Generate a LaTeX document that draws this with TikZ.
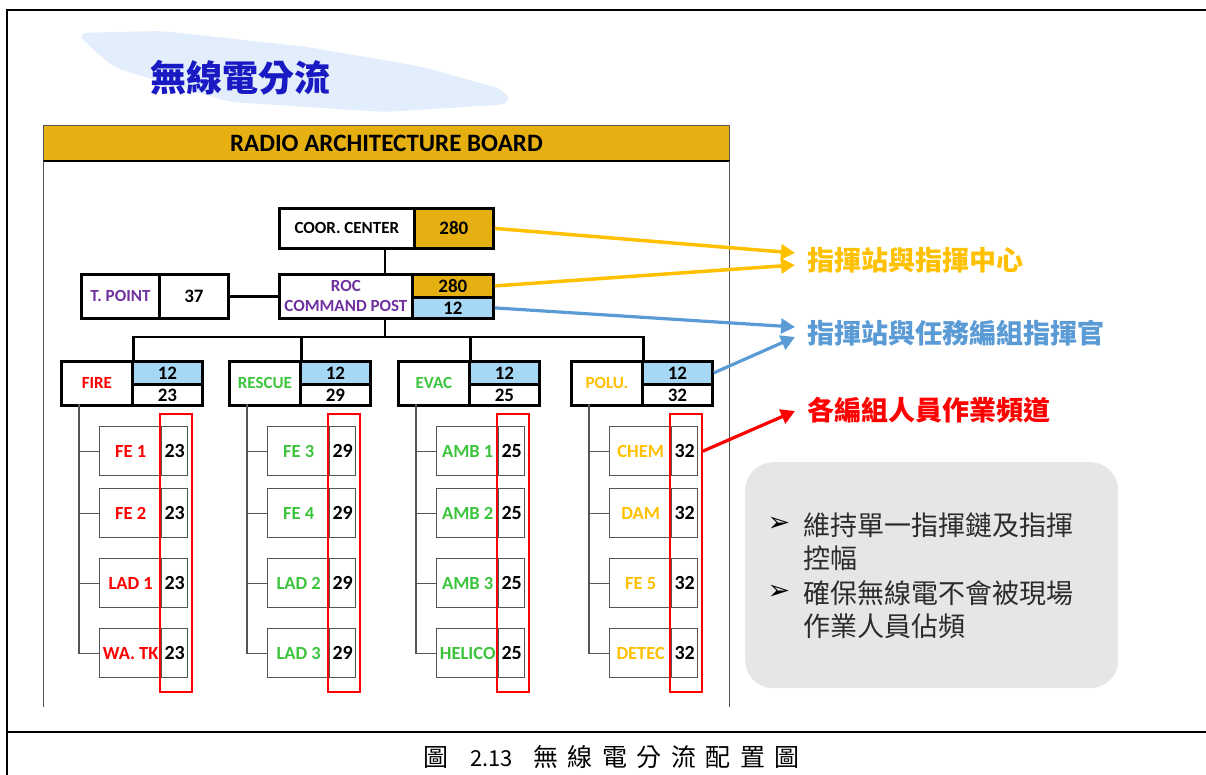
\documentclass[tikz,border=0pt]{standalone}
\usepackage{fontspec}
\setmainfont{Carlito}
\newfontfamily\cjk{Noto Sans CJK TC}
\newfontfamily\capfont[LetterSpace=38]{Noto Sans CJK TC}
\newfontfamily\dejavu{DejaVu Sans}
\usetikzlibrary{arrows.meta,calc}
\definecolor{gold}{HTML}{E6B012}
\definecolor{lblue}{HTML}{A6D8F5}
\definecolor{ylw}{HTML}{FFC000}
\definecolor{bl}{HTML}{5B9BD5}
\definecolor{grn}{HTML}{3CC43C}
\definecolor{purp}{HTML}{7030A0}
\definecolor{boxgray}{HTML}{E6E6E6}
\definecolor{titleblue}{HTML}{1A1AC4}
\definecolor{brush}{HTML}{E2EEFB}
\definecolor{txtgray}{HTML}{2B2B2B}
\definecolor{frame}{HTML}{555555}
\tikzset{
  cellbox/.style={draw=black, line width=2.8pt, anchor=north west, inner sep=0pt,
    font=\bfseries\fontsize{17}{19}\selectfont},
  numcell/.style={cellbox, font=\bfseries\fontsize{19}{21}\selectfont},
  chl/.style={draw=frame, line width=1.4pt, anchor=north west, inner sep=0pt,
    minimum width=62, minimum height=49, font=\bfseries\fontsize{18.5}{20}\selectfont},
  chn/.style={chl, minimum width=26, font=\bfseries\fontsize{20}{22}\selectfont},
  redbox/.style={draw=red, line width=1.8pt, anchor=north west, inner sep=0pt,
    minimum width=32, minimum height=278},
  bus/.style={line width=2.8pt},
  childline/.style={draw=frame, line width=1.4pt},
  yarrow/.style={draw=ylw, line width=3.5pt, -{Triangle[length=14pt,width=15pt]}},
  barrow/.style={draw=bl, line width=3.2pt, -{Triangle[length=14pt,width=15pt]}},
  rarrow/.style={draw=red, line width=3.2pt, -{Triangle[length=14pt,width=15pt]}},
  sidelabel/.style={anchor=west, inner sep=4pt, font=\cjk\bfseries\fontsize{27}{30}\selectfont},
  notetext/.style={anchor=west, inner sep=0pt, text=txtgray, font=\cjk\fontsize{27}{30}\selectfont},
  bullet/.style={inner sep=0pt, text=black, font=\dejavu\fontsize{27}{30}\selectfont},
}
% group: name, left x, label, colour, number, four children
\newcommand\grpbox[9]{%
  \node[cellbox, text=#4, minimum width=71, minimum height=44] (#1L) at (#2,360) {#3};
  \node[numcell, fill=lblue, minimum width=70, minimum height=23] (#1A) at (#2+71,360) {12};
  \node[numcell, minimum width=70, minimum height=21] (#1B) at (#2+71,383) {#5};
  \coordinate (#1V) at (#2+19,404);
  \node[chl, text=#4] (#1c1) at (#2+39,426) {#6};
  \node[chn] (#1n1) at (#2+101,426) {#5};
  \node[chl, text=#4] (#1c2) at (#2+39,488) {#7};
  \node[chn] (#1n2) at (#2+101,488) {#5};
  \node[chl, text=#4] (#1c3) at (#2+39,558) {#8};
  \node[chn] (#1n3) at (#2+101,558) {#5};
  \node[chl, text=#4] (#1c4) at (#2+39,628) {#9};
  \node[chn] (#1n4) at (#2+101,628) {#5};
  \draw[childline] (#1V) |- (#1c4.west);
  \draw[childline] (#1V |- #1c1.west) -- (#1c1.west);
  \draw[childline] (#1V |- #1c2.west) -- (#1c2.west);
  \draw[childline] (#1V |- #1c3.west) -- (#1c3.west);
  \node[redbox] (#1R) at (#2+99,413) {};
}
\begin{document}
\begin{tikzpicture}[x=1pt,y=-1pt]
\useasboundingbox (0,0) rectangle (1206,775);
% outer frame
\draw[line width=2.5pt] (7,776) -- (7,10) -- (1210,10);
\draw[line width=2.5pt] (7,732) -- (1210,732);
% title brush
\fill[brush, rounded corners=10]
  (77,33) -- (161,31) -- (308,47) -- (423,67) -- (505,90) -- (511,104)
  -- (385,112) -- (230,102) -- (115,68) -- (88,45) -- cycle;
\node[font=\cjk\bfseries\fontsize{36}{40}\selectfont, text=titleblue] (title) at (240,78) {無線電分流};
% board
\node[fill=gold, draw=frame, line width=0.8pt, anchor=north west, minimum width=686,
  minimum height=35, inner sep=0pt, font=\bfseries\fontsize{25}{27}\selectfont] (hdr) at (43,125) {RADIO ARCHITECTURE BOARD};
\draw[line width=2.5pt] (hdr.south west) -- (hdr.south east);
\draw[draw=frame, line width=1pt] (hdr.south west) -- ++(0,546);
\draw[draw=frame, line width=1pt] (hdr.south east) -- ++(0,546);
% top boxes
\node[cellbox, minimum width=135, minimum height=40] (coorL) at (278,207) {COOR. CENTER};
\node[numcell, fill=gold, minimum width=79, minimum height=40] (coorN) at (413,207) {280};
\node[cellbox, text=purp, minimum width=133, minimum height=44, align=center,
  font=\bfseries\fontsize{17}{20}\selectfont] (rocL) at (278,273) {ROC\\COMMAND POST};
\node[numcell, fill=gold, minimum width=81, minimum height=23] (rocA) at (411,273) {280};
\node[numcell, fill=lblue, minimum width=81, minimum height=21] (rocB) at (411,296) {12};
\node[cellbox, text=purp, minimum width=78, minimum height=44] (tpL) at (80,273) {T. POINT};
\node[numcell, minimum width=69, minimum height=44] (tpN) at (158,273) {37};
\draw[bus] (tpN.east) -- (rocL.west);
\coordinate (jx) at (385,337);
\draw[bus] (coorL.south -| jx) -- (rocL.north -| jx);
% groups
\grpbox{fire}{60}{FIRE}{red}{23}{FE 1}{FE 2}{LAD 1}{WA. TK}
\grpbox{resc}{228}{RESCUE}{grn}{29}{FE 3}{FE 4}{LAD 2}{LAD 3}
\grpbox{evac}{397}{EVAC}{grn}{25}{AMB 1}{AMB 2}{AMB 3}{HELICO}
\grpbox{polu}{570}{POLU.}{ylw}{32}{CHEM}{DAM}{FE 5}{DETEC}
\draw[bus] (rocL.south -| jx) -- (jx);
\draw[bus] (fireL.north east) |- (jx) -| (poluL.north east);
\draw[bus] (rescL.north east) -- (rescL.north east |- jx);
\draw[bus] (evacL.north east) -- (evacL.north east |- jx);
% side labels
\node[sidelabel, text=ylw] (l1) at (803,260) {指揮站與指揮中心};
\node[sidelabel, text=bl] (l2) at (803,333) {指揮站與任務編組指揮官};
\node[sidelabel, text=red] (l3) at (803,410) {各編組人員作業頻道};
\draw[yarrow] (coorN.east) -- ($(l1.west)+(-8,-7)$);
\draw[yarrow] (rocA.east) -- ($(l1.west)+(-8,5)$);
\draw[barrow] (rocB.east) -- ($(l2.west)+(-8,-6)$);
\draw[barrow] (poluA.east) -- ($(l2.west)+(-8,4)$);
\draw[rarrow] (poluR.east |- polun1) -- ($(l3.west)+(-8,1)$);
% note box
\node[fill=boxgray, rounded corners=28pt, anchor=north west, minimum width=373,
  minimum height=226, inner sep=0pt] (note) at (745,462) {};
\node[bullet] (b1) at (779,524) {➢};
\node[notetext] (t1) at (803,525) {維持單一指揮鏈及指揮};
\node[notetext] (t2) at (803,558) {控幅};
\node[bullet] (b2) at (779,592) {➢};
\node[notetext] (t3) at (803,593) {確保無線電不會被現場};
\node[notetext] (t4) at (803,626) {作業人員佔頻};
% caption
\node[anchor=west, inner sep=0pt] (cap) at (423,757)
  {\makebox[47pt][l]{\cjk\fontsize{25}{27}\selectfont 圖}\makebox[63pt][l]{\cjk\fontsize{22}{27}\selectfont 2.13}{\capfont\fontsize{25}{27}\selectfont 無線電分流配置圖}};
\end{tikzpicture}
\end{document}
